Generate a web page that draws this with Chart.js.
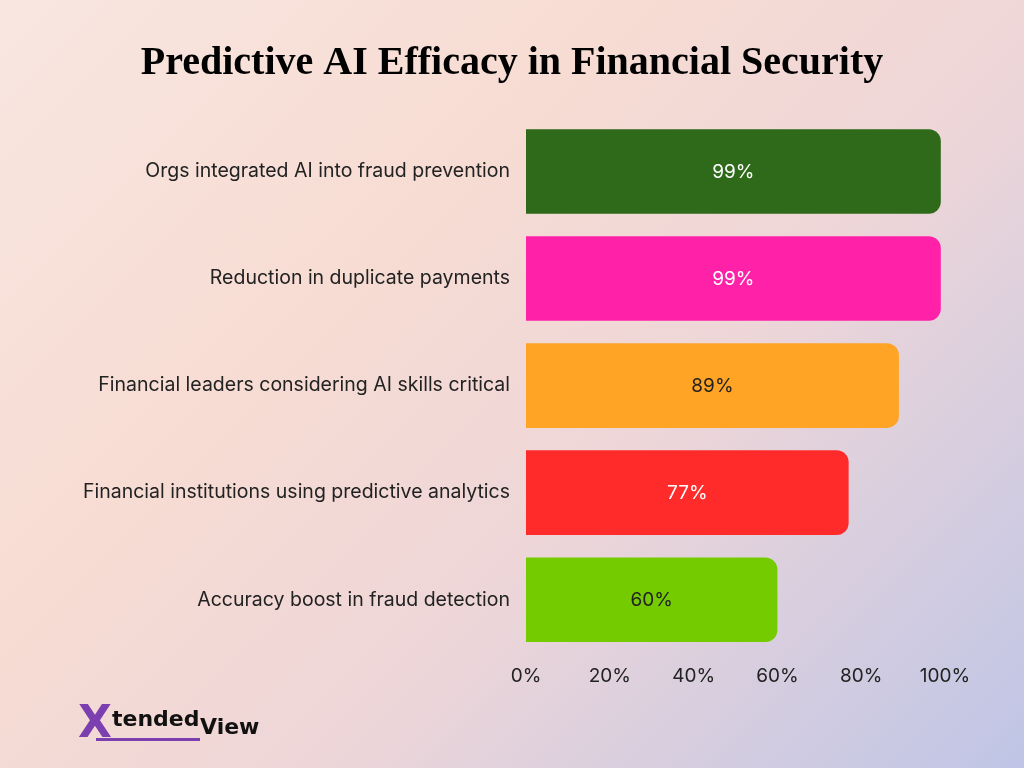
<!DOCTYPE html>
<html><head><meta charset="utf-8">
<script src="https://cdn.jsdelivr.net/npm/chart.js@4"></script>
<style>
html,body{margin:0;padding:0;width:1024px;height:768px;overflow:hidden}
body{background:linear-gradient(135deg,#f8e6e0 0%,#f7dcd3 35%,#eed6d8 60%,#bfc5e6 100%);position:relative;font-family:"Open Sans",sans-serif}
#wrap{position:absolute;left:0;top:0;width:1024px;height:768px}
#logo{position:absolute;left:78px;top:700px;font-family:"DejaVu Sans";font-weight:bold;height:44px}
#logo .x{position:absolute;left:0;top:-4px;font-size:44px;color:#7b3fb0;font-family:"DejaVu Sans";font-weight:900}
#logo .t{position:absolute;left:34px;top:6px;font-size:22px;color:#111}
#logo .v{position:absolute;left:122px;top:14px;font-size:22px;color:#111}
#logo .line{position:absolute;left:18px;top:38px;width:104px;height:3px;background:#7b3fb0}
</style></head><body>
<div id="wrap"><canvas id="c" width="1024" height="768"></canvas></div>
<div id="logo"><span class="x">X</span><span class="t">tended</span><span class="v">View</span><div class="line"></div></div>
<script>
const categories=["Orgs integrated AI into fraud prevention","Reduction in duplicate payments","Financial leaders considering AI skills critical","Financial institutions using predictive analytics","Accuracy boost in fraud detection"];
const values=[99,99,89,77,60];
const colors=["#2e6a1a","#ff22a8","#ffa424","#ff2a2a","#74cc00"];
const labelColors=["#ffffff","#ffffff","#222222","#ffffff","#222222"];
const xTicks=[0,20,40,60,80,100];
const titleText='Predictive AI Efficacy in Financial Security';
const labelsPlugin={id:'lbl',afterDatasetsDraw(ch){const ctx=ch.ctx;const meta=ch.getDatasetMeta(0);ctx.save();ctx.font='19px "Inter", sans-serif';ctx.textAlign='center';ctx.textBaseline='middle';meta.data.forEach((b,i)=>{ctx.fillStyle=labelColors[i];ctx.fillText(values[i]+'%',(b.base+b.x)/2,b.y+1);});
ctx.font='bold 40px "Liberation Serif"';ctx.fillStyle='#000';ctx.fillText(titleText,ch.width/2,64);ctx.restore();}};
new Chart(document.getElementById('c'),{type:'bar',
data:{labels:categories,datasets:[{data:values,backgroundColor:colors,borderRadius:{topRight:12,bottomRight:12,topLeft:0,bottomLeft:0},borderSkipped:false,barPercentage:1,categoryPercentage:0.79}]},
options:{indexAxis:'y',responsive:false,animation:false,devicePixelRatio:1,
layout:{padding:{left:0,right:79,top:38,bottom:76}},
plugins:{legend:{display:false},tooltip:{enabled:false},
title:{display:true,text:titleText,color:'rgba(0,0,0,0)',font:{family:'"Liberation Serif"',size:40,weight:'bold'},padding:{top:0,bottom:32}}},
scales:{x:{min:0,max:100,afterBuildTicks(s){s.ticks=xTicks.map(v=>({value:v}));},grid:{display:false},border:{display:false},ticks:{color:'#222',font:{family:'Inter',size:19},callback:v=>v+'%',padding:4,maxRotation:0}},
y:{grid:{display:false},border:{display:false},afterFit(s){s.width=526;},ticks:{color:'#222',font:{family:'Inter',size:19.5},padding:8}}}},
plugins:[labelsPlugin]});
</script></body></html>
